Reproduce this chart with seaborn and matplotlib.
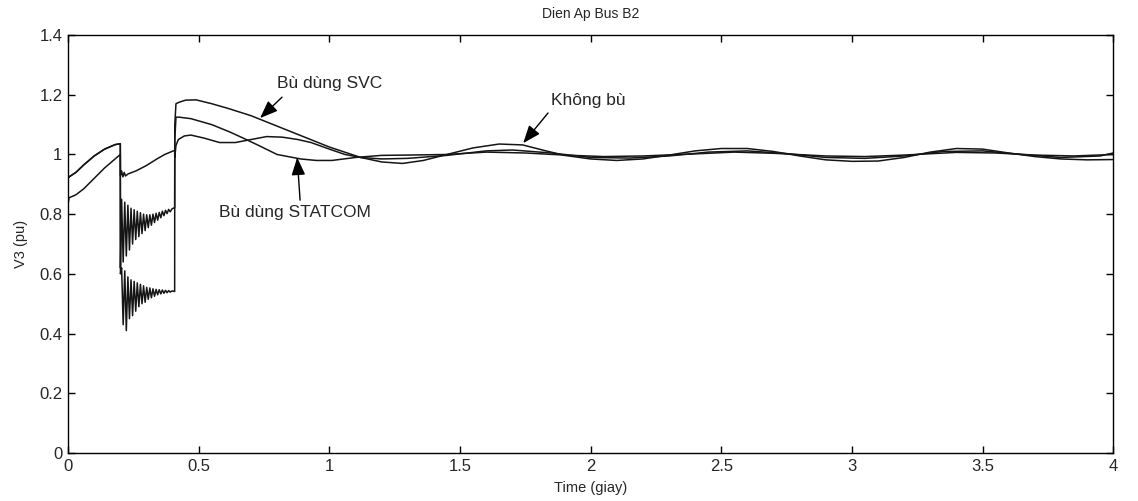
import pandas as pd
import matplotlib
matplotlib.use("Agg")
import matplotlib.pyplot as plt
import seaborn as sns

# --- data ---
# pre-fault (0 - 0.2 s)
t_pre = [0.0, 0.004, 0.03, 0.06, 0.1, 0.14, 0.18, 0.2]
v_pre_khong_bu = [0.835, 0.855, 0.865, 0.885, 0.92, 0.955, 0.985, 1.0]
v_pre_bu = [0.92, 0.925, 0.94, 0.965, 0.995, 1.018, 1.033, 1.036]

# fault (0.2 - 0.41 s), oscillating
t_fault = [0.2005, 0.205, 0.211, 0.217, 0.223, 0.229, 0.235, 0.241, 0.247, 0.253,
           0.259, 0.265, 0.271, 0.277, 0.283, 0.289, 0.295, 0.301, 0.307, 0.313,
           0.319, 0.325, 0.331, 0.337, 0.343, 0.349, 0.355, 0.361, 0.367, 0.373,
           0.379, 0.385, 0.391, 0.398, 0.408]
v_fault_khong_bu = [0.60, 0.62, 0.43, 0.61, 0.41, 0.59, 0.45, 0.58, 0.46, 0.575,
                    0.475, 0.57, 0.49, 0.565, 0.5, 0.56, 0.505, 0.555, 0.515, 0.553,
                    0.52, 0.55, 0.525, 0.548, 0.53, 0.547, 0.533, 0.546, 0.535, 0.545,
                    0.537, 0.544, 0.539, 0.543, 0.541]
v_fault_svc = [0.62, 0.85, 0.64, 0.84, 0.66, 0.83, 0.68, 0.82, 0.7, 0.815,
               0.715, 0.81, 0.725, 0.805, 0.735, 0.8, 0.745, 0.798, 0.755, 0.798,
               0.763, 0.8, 0.772, 0.803, 0.78, 0.806, 0.788, 0.81, 0.795, 0.813,
               0.802, 0.816, 0.808, 0.818, 0.822]
t_fault_statcom = [0.2005, 0.205, 0.21, 0.215, 0.22, 0.23, 0.26, 0.3, 0.34, 0.37, 0.408]
v_fault_statcom = [0.93, 0.945, 0.925, 0.94, 0.928, 0.935, 0.945, 0.963, 0.985, 1.0, 1.014]

# post-fault (0.41 - 4 s)
t_post_khong_bu = [0.4085, 0.413, 0.425, 0.45, 0.49, 0.55, 0.61, 0.7, 0.8, 0.9, 1.0,
                   1.12, 1.2, 1.28, 1.36, 1.45, 1.55, 1.65, 1.74, 1.82, 1.9, 2.0,
                   2.1, 2.2, 2.3, 2.4, 2.5, 2.6, 2.7, 2.8, 2.9, 3.0, 3.1, 3.2, 3.3,
                   3.4, 3.5, 3.6, 3.7, 3.8, 3.9, 4.0]
v_post_khong_bu = [1.1, 1.17, 1.175, 1.182, 1.183, 1.17, 1.155, 1.13, 1.095, 1.06, 1.025,
                   0.99, 0.975, 0.97, 0.98, 1.0, 1.022, 1.035, 1.032, 1.014, 0.997, 0.985,
                   0.98, 0.985, 0.998, 1.012, 1.02, 1.02, 1.01, 0.995, 0.982, 0.977, 0.978,
                   0.99, 1.008, 1.02, 1.018, 1.005, 0.993, 0.985, 0.982, 0.983]
t_post_svc = [0.4085, 0.413, 0.425, 0.47, 0.55, 0.62, 0.67, 0.73, 0.8, 0.89, 0.95,
              1.01, 1.1, 1.2, 1.3, 1.45, 1.6, 1.75, 1.9, 2.05, 2.2, 2.4, 2.55, 2.7,
              2.9, 3.05, 3.2, 3.4, 3.55, 3.7, 3.85, 4.0]
v_post_svc = [1.05, 1.125, 1.125, 1.12, 1.1, 1.075, 1.055, 1.03, 1.0, 0.985, 0.98,
              0.98, 0.99, 0.997, 0.998, 1.0, 1.008, 1.005, 0.998, 0.993, 0.995, 1.002,
              1.008, 1.004, 0.995, 0.993, 0.998, 1.007, 1.005, 0.998, 0.995, 1.0]
t_post_statcom = [0.4085, 0.413, 0.422, 0.445, 0.47, 0.52, 0.58, 0.64, 0.7, 0.76, 0.82,
                  0.88, 0.93, 1.0, 1.06, 1.12, 1.2, 1.3, 1.45, 1.6, 1.7, 1.85, 2.0,
                  2.15, 2.3, 2.45, 2.6, 2.75, 2.9, 3.05, 3.2, 3.35, 3.5, 3.65, 3.8,
                  3.95, 4.0]
v_post_statcom = [0.99, 1.03, 1.05, 1.062, 1.065, 1.055, 1.04, 1.04, 1.05, 1.06, 1.058,
                  1.05, 1.04, 1.018, 1.0, 0.99, 0.985, 0.987, 0.997, 1.012, 1.015, 1.005,
                  0.99, 0.988, 0.995, 1.008, 1.012, 1.003, 0.99, 0.987, 0.995, 1.01,
                  1.012, 1.0, 0.99, 0.995, 1.005]

x_ticks = [0, 0.5, 1, 1.5, 2, 2.5, 3, 3.5, 4]
x_tick_labels = ["0", "0.5", "1", "1.5", "2", "2.5", "3", "3.5", "4"]
y_ticks = [0, 0.2, 0.4, 0.6, 0.8, 1.0, 1.2, 1.4]
y_tick_labels = ["0", "0.2", "0.4", "0.6", "0.8", "1", "1.2", "1.4"]


def armar_df():
    partes = []
    series = {
        "Không bù": (t_pre + t_fault + t_post_khong_bu,
                     v_pre_khong_bu + v_fault_khong_bu + v_post_khong_bu),
        "SVC": (t_pre + t_fault + t_post_svc,
                v_pre_bu + v_fault_svc + v_post_svc),
        "STATCOM": (t_pre + t_fault_statcom + t_post_statcom,
                    v_pre_bu + v_fault_statcom + v_post_statcom),
    }
    for nombre, (t, v) in series.items():
        partes.append(pd.DataFrame({"t": t, "v": v, "serie": nombre}))
    return pd.concat(partes, ignore_index=True)


sns.set_theme(style="ticks")
plt.rcParams["font.family"] = ["Liberation Sans", "DejaVu Sans"]
plt.rcParams["xtick.direction"] = "in"
plt.rcParams["ytick.direction"] = "in"

df = armar_df()

fig = plt.figure(figsize=(11.38, 5.01), dpi=100)
ax = fig.add_axes([0.0598, 0.0958, 0.9184, 0.8342])
sns.lineplot(data=df, x="t", y="v", hue="serie", units="serie", estimator=None,
             sort=False, palette=["#151515"] * 3, linewidth=1.1, legend=False, ax=ax)

ax.set_xlim(0, 4)
ax.set_ylim(0, 1.4)
ax.set_xticks(x_ticks)
ax.set_xticklabels(x_tick_labels)
ax.set_yticks(y_ticks)
ax.set_yticklabels(y_tick_labels)
ax.tick_params(axis="both", labelsize=12, length=5, width=1, color="black",
               top=True, right=True, pad=4)
for s in ax.spines.values():
    s.set_visible(True)
    s.set_color("black")
    s.set_linewidth(1.0)

ax.set_title("Dien Ap Bus B2", fontsize=10, pad=12)
ax.set_xlabel("Time (giay)", fontsize=10.5, labelpad=5)
ax.set_ylabel("V3 (pu)", fontsize=10.5, labelpad=8)

flecha = dict(arrowstyle="-|>,head_length=0.9,head_width=0.35", color="black",
              lw=1.0, shrinkA=0, shrinkB=0)
ax.annotate("", xy=(0.735, 1.122), xytext=(0.819, 1.192), arrowprops=flecha)
ax.text(1.003, 1.239, "Bù dùng SVC", fontsize=12.5, ha="center", va="center")
ax.annotate("", xy=(0.877, 0.99), xytext=(0.888, 0.847), arrowprops=flecha)
ax.text(0.869, 0.807, "Bù dùng STATCOM", fontsize=12.5, ha="center", va="center")
ax.annotate("", xy=(1.742, 1.038), xytext=(1.837, 1.139), arrowprops=flecha)
ax.text(1.99, 1.182, "Không bù", fontsize=12.5, ha="center", va="center")

fig.savefig("out.png", dpi=100)
